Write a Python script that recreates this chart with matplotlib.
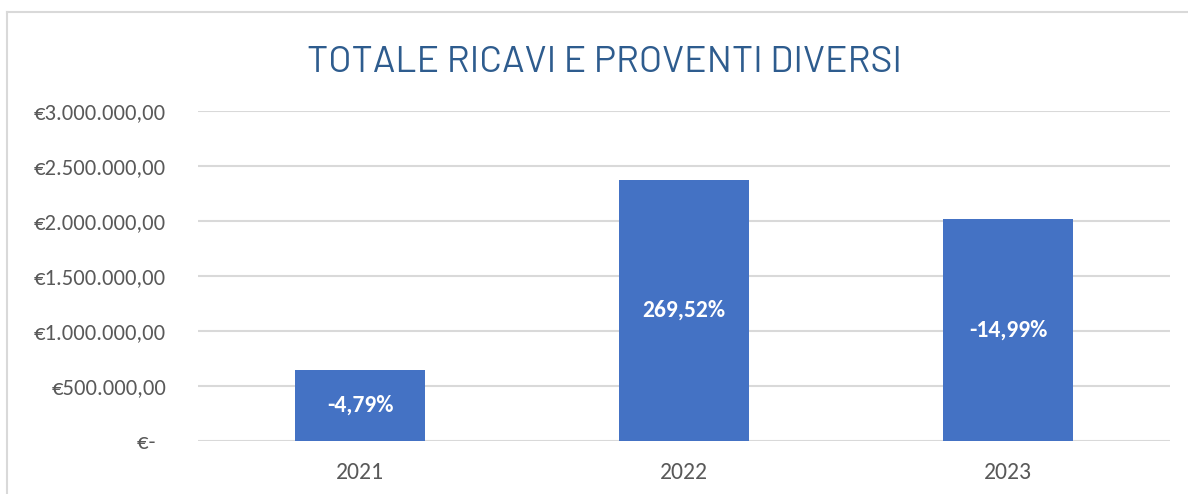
import matplotlib
matplotlib.use("Agg")
import matplotlib.pyplot as plt
from matplotlib.lines import Line2D

years = ["2021", "2022", "2023"]
ricavi = [643000, 2376000, 2020000]
variazioni = ["-4,79%", "269,52%", "-14,99%"]
y_ticks = [0, 500000, 1000000, 1500000, 2000000, 2500000, 3000000]
y_tick_labels = ["€-  ", "€500.000,00", "€1.000.000,00", "€1.500.000,00",
                 "€2.000.000,00", "€2.500.000,00", "€3.000.000,00"]

W, H = 1188, 494
fig = plt.figure(figsize=(W / 100, H / 100), dpi=100)
ax = fig.add_axes([198 / W, 1 - 441 / H, (1170 - 198) / W, (441 - 111) / H])

x = range(len(years))
bars = ax.bar(x, ricavi, width=0.4, color="#4472C4", zorder=3)
for b, txt in zip(bars, variazioni):
    ax.text(b.get_x() + b.get_width() / 2, b.get_height() / 2, txt,
            ha="center", va="center", color="white", fontsize=17,
            fontweight="bold", family="Carlito", zorder=4)

ax.set_xlim(-0.5, 2.5)
ax.set_ylim(0, 3000000)
ax.set_yticks(y_ticks)
ax.set_yticklabels(y_tick_labels)
ax.set_xticks(list(x))
ax.set_xticklabels(years)
ax.grid(True, axis="y", color="#D9D9D9", linewidth=1.5, zorder=0)
for s in ax.spines.values():
    s.set_visible(False)
ax.tick_params(axis="both", length=0, colors="#595959")
ax.tick_params(axis="y", pad=23, labelsize=16.3)
ax.tick_params(axis="x", pad=15, labelsize=17)
for lab in ax.get_xticklabels() + ax.get_yticklabels():
    lab.set_family("Carlito")

fig.text(307 / W, 1 - 62 / H, "TOTALE RICAVI E PROVENTI DIVERSI",
         ha="left", va="center", fontsize=26.9, color="#2E5C8E",
         family=["Barlow", "DejaVu Sans"], fontweight="normal")

# chart frame
fig.add_artist(Line2D([7 / W, 1], [1 - 12 / H, 1 - 12 / H], color="#D9D9D9", lw=1.5))
fig.add_artist(Line2D([7 / W, 7 / W], [0, 1 - 12 / H], color="#D9D9D9", lw=1.5))

fig.savefig("out.png", dpi=100)
